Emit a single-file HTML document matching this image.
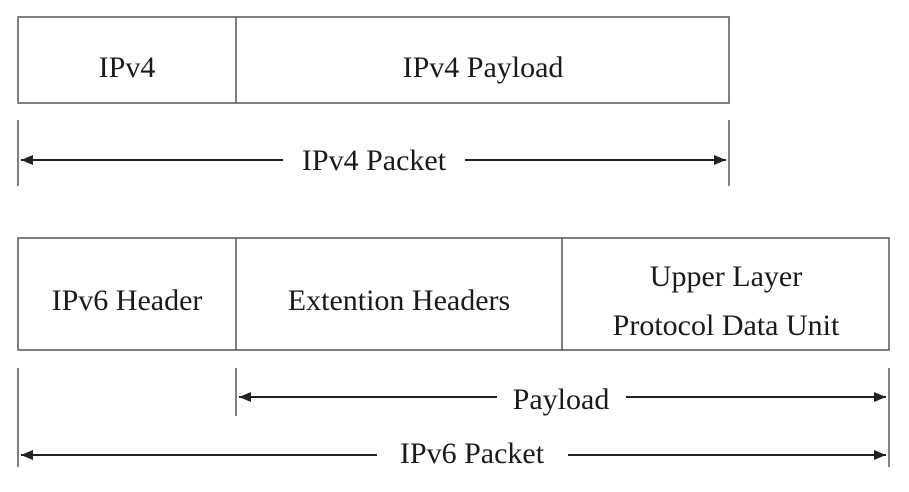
<!DOCTYPE html>
<html><head><style>
body{margin:0;background:#fff;}
svg text{font-family:"Liberation Serif",serif;font-size:30px;fill:#1a1a1a;}
</style></head><body>
<svg width="909" height="487" viewBox="0 0 909 487" xmlns="http://www.w3.org/2000/svg">
<defs><marker id="a" markerWidth="12" markerHeight="10" refX="12" refY="5" orient="auto" markerUnits="userSpaceOnUse"><path d="M0,0 L12,5 L0,10 Z" fill="#222"/></marker></defs>
<g stroke="#555" stroke-width="1.5" fill="none">
<rect x="18" y="17" width="711" height="86"/>
<line x1="236" y1="17" x2="236" y2="103"/>
<line x1="18" y1="120" x2="18" y2="186"/>
<line x1="729" y1="120" x2="729" y2="186"/>
<rect x="18" y="238" width="871" height="112"/>
<line x1="236" y1="238" x2="236" y2="350"/>
<line x1="562" y1="238" x2="562" y2="350"/>
<line x1="18" y1="368" x2="18" y2="467"/>
<line x1="889" y1="368" x2="889" y2="467"/>
<line x1="236" y1="368" x2="236" y2="416"/>
</g>
<g stroke="#222" stroke-width="2">
<line x1="283" y1="160" x2="21" y2="160" marker-end="url(#a)"/>
<line x1="465" y1="160" x2="726" y2="160" marker-end="url(#a)"/>
<line x1="497" y1="397" x2="239" y2="397" marker-end="url(#a)"/>
<line x1="626" y1="397" x2="886" y2="397" marker-end="url(#a)"/>
<line x1="377" y1="455" x2="21" y2="455" marker-end="url(#a)"/>
<line x1="568" y1="455" x2="886" y2="455" marker-end="url(#a)"/>
</g>
<g text-anchor="middle">
<text x="127" y="77">IPv4</text>
<text x="483" y="77">IPv4 Payload</text>
<text x="374" y="170">IPv4 Packet</text>
<text x="127" y="310">IPv6 Header</text>
<text x="399" y="310">Extention Headers</text>
<text x="726" y="286">Upper Layer</text>
<text x="726" y="335">Protocol Data Unit</text>
<text x="561" y="409">Payload</text>
<text x="472" y="463">IPv6 Packet</text>
</g>
</svg>
</body></html>
